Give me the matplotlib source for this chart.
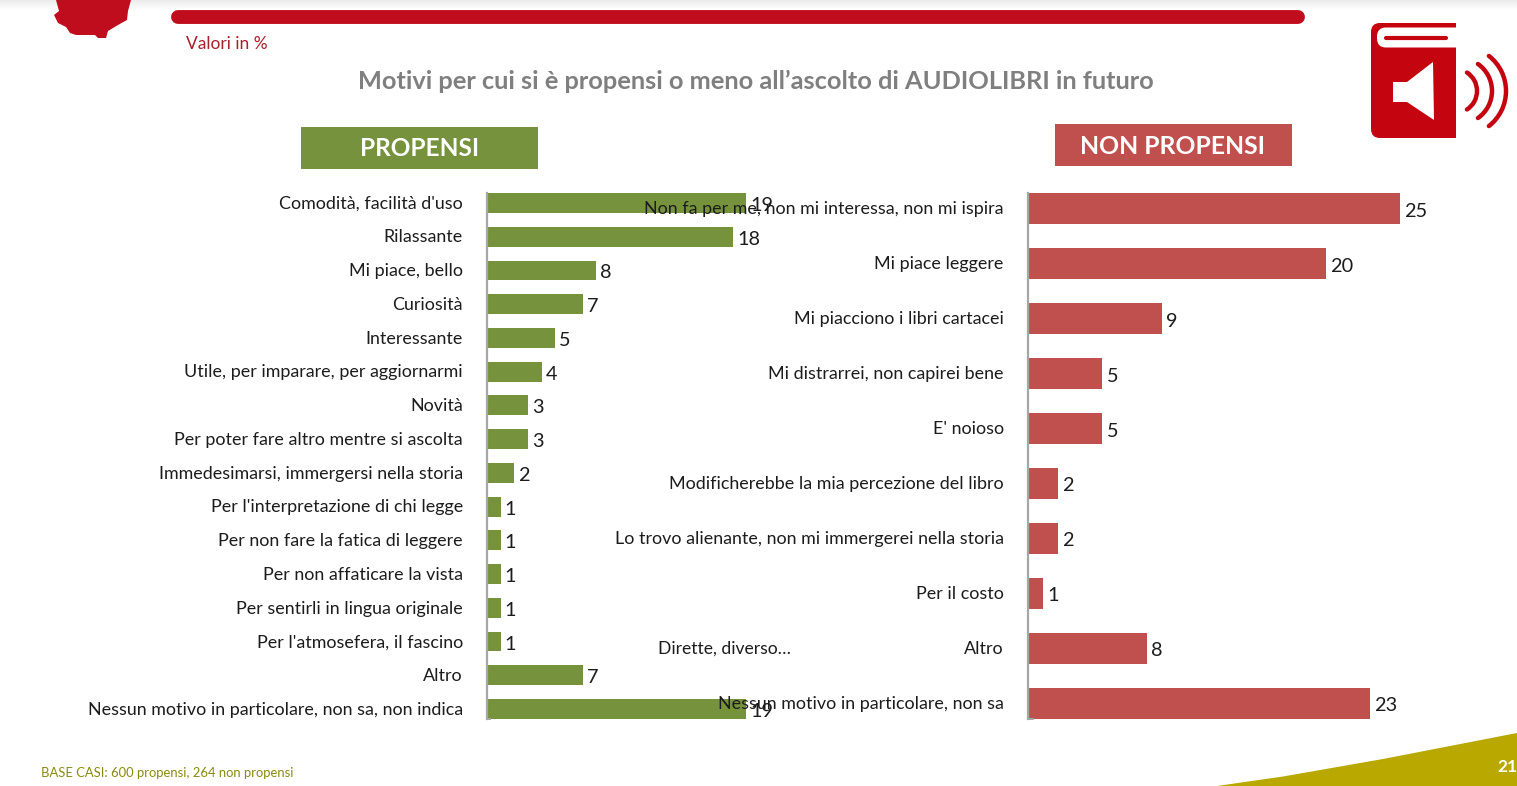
import matplotlib
matplotlib.use("Agg")
import matplotlib.pyplot as plt
import numpy as np
from matplotlib.patches import Polygon, Rectangle, FancyBboxPatch, Arc
from matplotlib.transforms import ScaledTranslation

plt.rcParams['font.family'] = ['Lato', 'DejaVu Sans']

left_labels = ["Comodità, facilità d'uso", "Rilassante", "Mi piace, bello", "Curiosità", "Interessante",
               "Utile, per imparare, per aggiornarmi", "Novità", "Per poter fare altro mentre si ascolta",
               "Immedesimarsi, immergersi nella storia", "Per l'interpretazione di chi legge",
               "Per non fare la fatica di leggere", "Per non affaticare la vista", "Per sentirli in lingua originale",
               "Per l'atmosefera, il fascino", "Altro", "Nessun motivo in particolare, non sa, non indica"]
left_values = [19, 18, 8, 7, 5, 4, 3, 3, 2, 1, 1, 1, 1, 1, 7, 19]

right_labels = ["Non fa per me, non mi interessa, non mi ispira", "Mi piace leggere", "Mi piacciono i libri cartacei",
                "Mi distrarrei, non capirei bene", "E' noioso", "Modificherebbe la mia percezione del libro",
                "Lo trovo alienante, non mi immergerei nella storia", "Per il costo", "Altro",
                "Nessun motivo in particolare, non sa"]
right_values = [25, 20, 9, 5, 5, 2, 2, 1, 8, 23]

W, H = 1517, 786
fig = plt.figure(figsize=(W / 100, H / 100), dpi=100, facecolor='white')

def axes_px(x0, y0, x1, y1, **kw):
    return fig.add_axes([x0 / W, 1 - y1 / H, (x1 - x0) / W, (y1 - y0) / H], **kw)

# Decorative page layer, in pixel coordinates
bg = axes_px(0, 0, W, H, zorder=0)
bg.axis('off')
RED = '#C00D1E'
ICON = '#C4040F'
bg.imshow(np.linspace(0.92, 1, 10)[:, None], extent=(0, W, 10, 0), cmap='gray', vmin=0, vmax=1, aspect='auto', zorder=0)
bg.set_xlim(0, W); bg.set_ylim(H, 0)
bg.add_patch(Polygon([(56, 0), (131, 0), (128, 11), (127, 20), (118, 25), (108, 31), (106, 38), (98, 38), (95, 35),
                      (76, 35), (70, 33), (66, 27), (58, 23), (54, 15), (59, 11)], closed=True, fc=RED, ec='none'))
bg.plot([178, 1298], [16.5, 16.5], color=RED, lw=10, solid_capstyle='round')
bg.text(186, 44, "Valori in %", color='#A8202C', fontsize=12.5, va='center', ha='left')
bg.text(755.5, 81, "Motivi per cui si è propensi o meno all’ascolto di AUDIOLIBRI in futuro", color='#7F7F7F',
        fontsize=18.25, fontweight='bold', va='center', ha='center')
bg.add_patch(Rectangle((301, 127), 237, 42, fc='#76923C', ec='none'))
bg.text(419.5, 149, "PROPENSI", color='white', fontsize=17.6, fontweight='bold', va='center', ha='center')
bg.add_patch(Rectangle((1055, 124), 237, 42, fc='#C0504D', ec='none'))
bg.text(1173, 146.5, "NON PROPENSI", color='white', fontsize=17.8, fontweight='bold', va='center', ha='center')
# book icon
bg.add_patch(FancyBboxPatch((1371, 23), 60, 115, boxstyle="round,pad=0,rounding_size=9", fc=ICON, ec='none'))
bg.add_patch(Rectangle((1395, 23), 61, 115, fc=ICON, ec='none'))
bg.add_patch(FancyBboxPatch((1377, 27.5), 95, 20, boxstyle="round,pad=0,rounding_size=9", fc='white', ec='none'))
bg.plot([1386, 1446], [37.5, 37.5], color=ICON, lw=3, solid_capstyle='round')
bg.add_patch(Polygon([(1393, 82), (1407, 82), (1433, 62), (1434, 120), (1407, 102), (1393, 102)], closed=True, fc='white', ec='none'))
for cx, r, a in [(1455, 22, 57), (1459, 33, 55), (1461.5, 44.5, 52)]:
    bg.add_patch(Arc((cx, 91), 2 * r, 2 * r, theta1=-a, theta2=a, ec=ICON, lw=3.2, capstyle='round'))
# footer
bg.add_patch(Polygon([(1217, 786), (1283, 776.5), (1383, 759), (1450, 746), (1517, 733), (1517, 786)], closed=True, fc='#B8A800', ec='none'))
bg.text(1497, 767, "21", color='white', fontsize=12.5, fontweight='bold', va='center', ha='left', clip_on=False)
bg.text(41, 773, "BASE CASI: 600 propensi, 264 non propensi", color='#8A8A10', fontsize=9.33, va='center', ha='left')

def panel(x0, x1, xmax, labels, values, color, y0, y1, margin, zorder, width):
    ax = axes_px(x0, y0, x1, y1, zorder=zorder)
    ax.patch.set_alpha(0)
    pos = np.arange(len(values))
    ax.barh(pos, values, height=width, color=color, linewidth=0)
    ax.set_xlim(0, xmax)
    ax.set_ylim(len(values) - 1 + margin, -margin)
    ax.set_yticks(pos, labels)
    ax.tick_params(axis='y', length=0, pad=17.4, labelsize=12.85, labelcolor='#1c1c1c')
    shift = ScaledTranslation(0, 0.8 / 100, fig.dpi_scale_trans)
    for lab in ax.get_yticklabels():
        lab.set_transform(lab.get_transform() + shift)
    ax.xaxis.set_visible(False)
    for s in ('top', 'right'):
        ax.spines[s].set_visible(False)
    ax.spines['bottom'].set_color('#A6A6A6')
    ax.spines['bottom'].set_linewidth(1.4)
    ax.spines['bottom'].set_bounds(0, xmax * 0.012)
    ax.spines['left'].set_color('#A6A6A6')
    ax.spines['left'].set_linewidth(1.6)
    for p, v in zip(pos, values):
        ax.annotate(str(v), (v, p), xytext=(3, -1.8), textcoords='offset points', va='center', ha='left',
                    fontsize=14.3, color='#1c1c1c', annotation_clip=False)
    return ax

panel(487, 760, 273 / 13.65, left_labels, left_values, '#76923C', 193, 719, 0.296, 2, 0.59)
ax2 = panel(1028, 1430, 402 / 14.88, right_labels, right_values, '#C0504D', 193, 719, 0.282, 3, 0.57)
ax2.annotate("Dirette, diverso…", xy=(658, H - 649), xycoords='figure pixels', fontsize=12.6, va='center', ha='left', color='#1c1c1c')

fig.savefig("out.png", dpi=100)
